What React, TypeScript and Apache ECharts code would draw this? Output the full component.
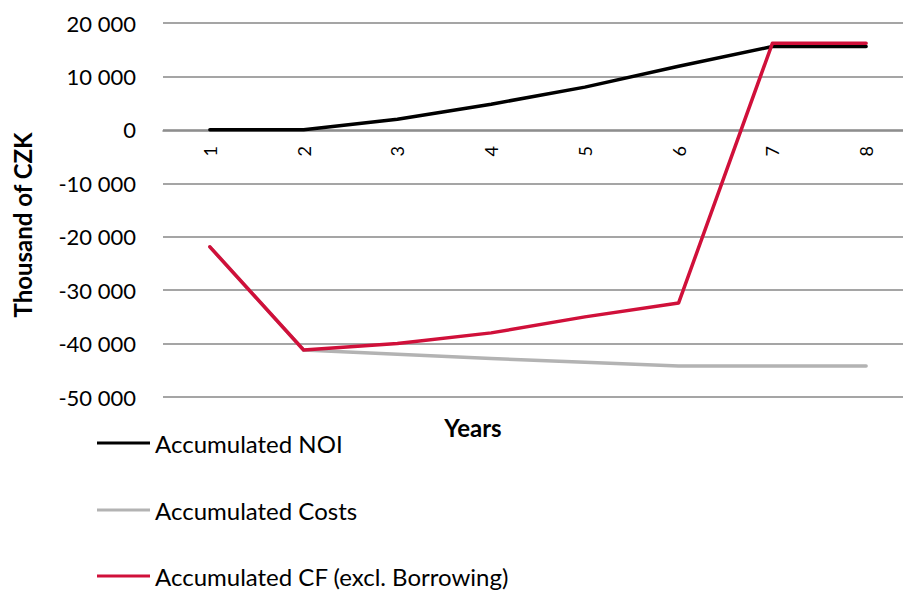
import React, { useEffect, useRef } from "react";
import * as echarts from "echarts";

const years = ["1", "2", "3", "4", "5", "6", "7", "8"];
const accumulatedNOI = [0, 0, 2000, 4800, 8000, 11900, 15600, 15600];
const accumulatedCosts = [-21900, -41200, -42000, -42800, -43500, -44200, -44200, -44200];
const accumulatedCF = [-21900, -41200, -40000, -38000, -35000, -32400, 16200, 16200];
const seriesNames = ["Accumulated NOI", "Accumulated Costs", "Accumulated CF (excl. Borrowing)"];
const seriesColors = ["#000000", "#b3b3b3", "#d0103a"];

const FONT = "Lato";

function fmt(v: number): string {
  const s = Math.abs(v).toString().replace(/\B(?=(\d{3})+(?!\d))/g, " ");
  return (v < 0 ? "-" : "") + s;
}

export default function App() {
  const ref = useRef<HTMLDivElement>(null);
  useEffect(() => {
    if (!ref.current) return;
    const chart = echarts.init(ref.current, undefined, { renderer: "svg" });
    const data = [accumulatedNOI, accumulatedCosts, accumulatedCF];
    const legendTops = [443, 510, 576];
    chart.setOption({
      animation: false,
      grid: { left: 163, top: 23, width: 750, height: 374, containLabel: false },
      xAxis: {
        type: "category",
        data: years,
        boundaryGap: true,
        position: "bottom",
        offset: -266,
        axisLine: { show: true, onZero: false, lineStyle: { color: "#878787", width: 1.5 } },
        axisTick: { show: false },
        axisLabel: { rotate: 90, margin: 15, fontSize: 18, color: "#000", fontFamily: FONT },
      },
      yAxis: {
        type: "value",
        min: -50000,
        max: 20000,
        interval: 10000,
        axisLine: { show: false },
        axisTick: { show: false },
        splitLine: { lineStyle: { color: "#878787", width: 1.5 } },
        axisLabel: { formatter: fmt, margin: 27, fontSize: 22, color: "#000", fontFamily: FONT },
      },
      legend: seriesNames.map((n, i) => ({
        data: [n],
        orient: "vertical",
        left: 97,
        top: legendTops[i] - 14,
        padding: 0,
        icon: "rect",
        itemWidth: 53,
        itemHeight: 3,
        selectedMode: false,
        textStyle: { fontSize: 24, color: "#000", fontFamily: FONT, lineHeight: 28 },
      })),
      graphic: [
        {
          type: "text",
          x: 22,
          y: 225,
          rotation: Math.PI / 2,
          style: {
            text: "Thousand of CZK",
            fontSize: 24,
            fontWeight: "bold",
            fontFamily: FONT,
            fill: "#000",
            textAlign: "center",
            textVerticalAlign: "middle",
          },
        },
        {
          type: "text",
          x: 473,
          y: 427,
          style: {
            text: "Years",
            fontSize: 24,
            fontWeight: "bold",
            fontFamily: FONT,
            fill: "#000",
            textAlign: "center",
            textVerticalAlign: "middle",
          },
        },
      ],
      series: seriesNames.map((n, i) => ({
        name: n,
        type: "line",
        data: data[i],
        symbol: "none",
        color: seriesColors[i],
        lineStyle: { width: 3.5, color: seriesColors[i], cap: "round", join: "round" },
      })),
    });
    return () => chart.dispose();
  }, []);
  return (
    <div style={{ position: "fixed", left: 0, top: 0, width: 903, height: 593, overflow: "hidden", background: "#fff" }}>
      <div ref={ref} style={{ width: 920, height: 593 }} />
    </div>
  );
}
